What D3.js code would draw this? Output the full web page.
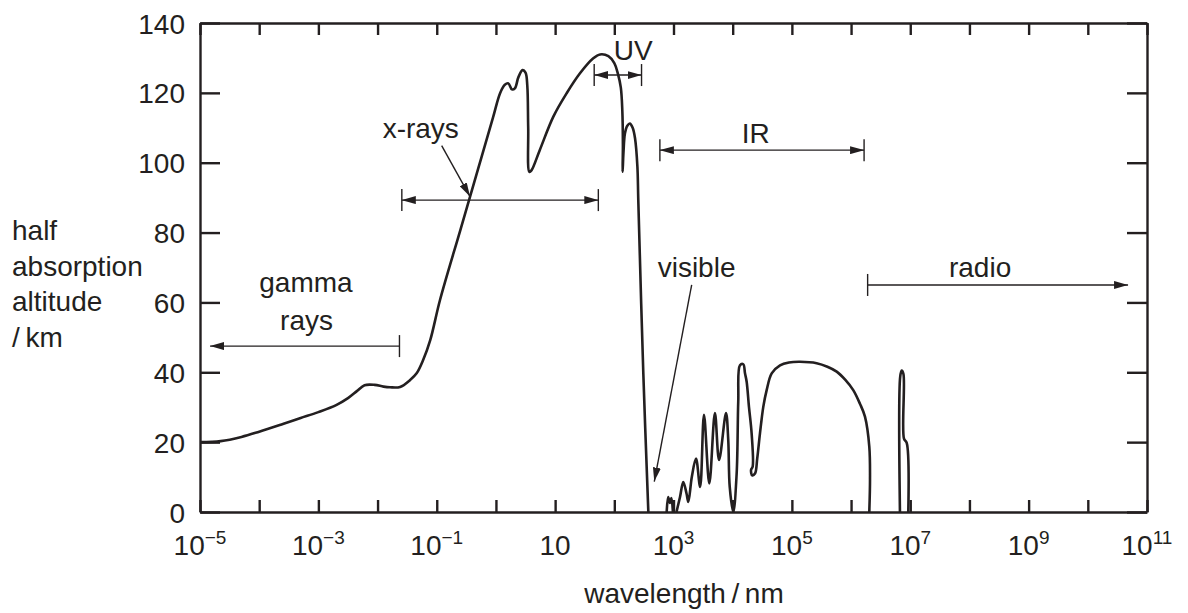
<!DOCTYPE html>
<html>
<head>
<meta charset="utf-8">
<script src="https://cdn.jsdelivr.net/npm/d3@7"></script>
<style>
  body { margin: 0; background: #fff; }
  svg { color: #231f20; }
  text { font-family: "Liberation Sans", Arial, Helvetica, sans-serif; fill: #231f20; }
</style>
</head>
<body>
<svg id="chart" width="1188" height="613"></svg>
<script>
// readings: log10(wavelength / nm) and half absorption altitude / km
const logWavelength = [
  -5.00, -4.65, -4.30, -4.00, -3.60, -3.30, -3.00, -2.70, -2.50, -2.35, -2.22, -2.05, -1.90, -1.79, -1.62, -1.45, -1.34, -1.23, -1.11, -0.945,
  -0.60, -0.30, -0.05,
  0.07, 0.15, 0.21, 0.27, 0.32, 0.38, 0.45, 0.50, 0.53, 0.545, 0.565, 0.60, 0.74, 0.97, 1.195, 1.42, 1.645, 1.76, 1.90, 2.00,
  2.06, 2.11, 2.135, 2.145, 2.14, 2.155, 2.18, 2.22, 2.265, 2.31, 2.35, 2.39, 2.405, 2.49, 2.575,
  2.885, 2.91, 2.94, 2.965, 2.99, 3.05, 3.11, 3.165, 3.22, 3.25, 3.31, 3.38, 3.45, 3.515, 3.605, 3.70, 3.77, 3.887, 3.925, 3.95, 4.01,
  4.067, 4.094, 4.123, 4.179, 4.208, 4.236, 4.275, 4.32, 4.338, 4.31, 4.33, 4.377, 4.415, 4.461, 4.517, 4.574, 4.659, 4.80, 4.95, 5.137,
  5.419, 5.60, 5.757, 5.90, 6.037, 6.15, 6.235, 6.308, 6.32, 6.308,
  6.826, 6.83, 6.855, 6.885, 6.894, 6.94, 6.967
];
const altitude = [
  20.0, 20.3, 21.5, 23.0, 25.2, 26.9, 28.6, 30.6, 32.6, 34.6, 36.3, 36.4, 35.9, 35.7, 35.8, 37.8, 39.7, 43.5, 49.2, 60.7,
  80.8, 98.3, 112.9,
  119.9, 122.3, 122.7, 121.0, 121.3, 124.5, 126.5, 125.8, 122.0, 110.0, 97.4, 97.8, 103.6, 113.2, 119.9, 125.6, 129.9, 131.0, 130.5, 128.5,
  125.5, 121.5, 115.0, 105.0, 97.4, 103.0, 108.4, 110.6, 111.2, 110.0, 107.0, 98.9, 89.3, 39.7, 0,
  0, 4.3, 2.6, 4.0, 0, 0, 4.3, 8.6, 5.3, 2.9, 10.1, 15.3, 7.2, 27.8, 8.2, 28.3, 14.9, 28.3, 20.6, 7.2, 0,
  11.0, 31.6, 42.0, 42.3, 39.7, 37.3, 30.1, 22.5, 13.0, 12.0, 10.5, 11.0, 15.4, 22.5, 30.1, 34.9, 39.7, 42.0, 42.8, 43.0,
  42.6, 41.6, 40.2, 37.9, 34.9, 31.0, 27.3, 18.7, 9.2, 0,
  0, 38.7, 40.5, 39.5, 21.0, 19.8, 0
];

// spectral bands drawn as range arrows (log10 wavelength / nm, altitude / km)
const bandNames = ["gamma rays", "x-rays", "UV", "IR", "radio"];
const bandFrom  = [-4.83, -1.59, 1.66, 2.77, 6.28];
const bandTo    = [-1.63, 1.73, 2.46, 6.22, 10.68];
const bandAlt   = [47.5, 89.3, 125.1, 103.6, 65.0];

const xTickExponents  = [-5, -4, -3, -2, -1, 0, 1, 2, 3, 4, 5, 6, 7, 8, 9, 10, 11];
const xLabelExponents = [-5, -3, -1, 1, 3, 5, 7, 9, 11];
const yTicks = [0, 20, 40, 60, 80, 100, 120, 140];
const yTitle = ["half", "absorption", "altitude", "/\u2009km"];
const xTitle = "wavelength\u2009/\u2009nm";

const INK = "#231f20";
const FS = 28;

const svg = d3.select("#chart");
const mLeft = 200, mRight = 1147, mTop = 23, mBottom = 512;

const x = d3.scaleLog().domain([1e-5, 1e11]).range([mLeft, mRight]);
const y = d3.scaleLinear().domain([0, 140]).range([mBottom, mTop]);
const wl = e => Math.pow(10, e);

const defs = svg.append("defs");
defs.append("marker")
  .attr("id", "arrow")
  .attr("markerUnits", "userSpaceOnUse")
  .attr("viewBox", "0 0 14 8")
  .attr("refX", 14).attr("refY", 4)
  .attr("markerWidth", 14).attr("markerHeight", 8)
  .attr("orient", "auto-start-reverse")
  .append("path")
  .attr("d", "M0,0L14,4L0,8Z")
  .attr("fill", INK);
defs.append("clipPath").attr("id", "plot")
  .append("rect").attr("x", mLeft).attr("y", mTop - 5)
  .attr("width", mRight - mLeft).attr("height", mBottom - mTop + 5);

// frame with inward ticks on all sides
function styleAxis(g) {
  g.selectAll("path, line").attr("stroke", INK).attr("stroke-width", 2.4);
  g.attr("font-family", null).attr("font-size", null);
}
svg.append("g").attr("transform", `translate(0,${mBottom})`)
  .call(d3.axisBottom(x).tickValues(xTickExponents.map(wl)).tickSizeInner(-12).tickSizeOuter(0).tickFormat(""))
  .call(styleAxis);
svg.append("g").attr("transform", `translate(0,${mTop})`)
  .call(d3.axisTop(x).tickValues(xTickExponents.map(wl)).tickSizeInner(-12).tickSizeOuter(0).tickFormat(""))
  .call(styleAxis);
svg.append("g").attr("transform", `translate(${mLeft},0)`)
  .call(d3.axisLeft(y).tickValues(yTicks).tickSizeInner(-20).tickSizeOuter(0).tickPadding(15))
  .call(styleAxis)
  .selectAll("text").attr("font-size", FS).attr("dy", "0.36em");
svg.append("g").attr("transform", `translate(${mRight},0)`)
  .call(d3.axisRight(y).tickValues(yTicks).tickSizeInner(-20).tickSizeOuter(0).tickFormat(""))
  .call(styleAxis);

// x tick labels with superscript exponents
const xl = svg.append("g").selectAll("text")
  .data(xLabelExponents).enter().append("text")
  .attr("x", e => x(wl(e))).attr("y", 555)
  .attr("text-anchor", "middle").attr("font-size", FS);
xl.append("tspan").text("10");
xl.filter(e => e !== 1).append("tspan")
  .attr("dy", -11).attr("font-size", 19)
  .text(e => e < 0 ? "\u2212" + Math.abs(e) : String(e));

// axis titles
svg.append("text").attr("x", 684).attr("y", 603).attr("text-anchor", "middle")
  .attr("font-size", FS).text(xTitle);
svg.append("g").selectAll("text").data(yTitle).enter().append("text")
  .attr("x", 12).attr("y", (d, i) => 240 + i * 35.5)
  .attr("font-size", FS).text(d => d);

// absorption curve, split where it lies flat on the baseline
const segments = [];
let cur = [];
logWavelength.forEach((e, i) => {
  if (i > 0 && altitude[i] === 0 && altitude[i - 1] === 0) {
    segments.push(cur);
    cur = [];
  }
  cur.push([x(wl(e)), y(altitude[i])]);
});
segments.push(cur);

const line = d3.line().curve(d3.curveCatmullRom.alpha(0.5));
svg.append("g").attr("clip-path", "url(#plot)")
  .selectAll("path").data(segments).enter().append("path")
  .attr("d", d => line(d))
  .attr("fill", "none").attr("stroke", INK).attr("stroke-width", 2.6)
  .attr("stroke-linejoin", "round");

// band range arrows
const hasStartArrow = [true, true, true, true, false];
const hasEndArrow   = [false, true, true, true, true];
const hasStartBar   = [false, true, true, true, true];
const hasEndBar     = [true, true, true, true, false];
const ann = svg.append("g").attr("stroke", INK).attr("stroke-width", 1.4);
bandNames.forEach((name, i) => {
  const x0 = x(wl(bandFrom[i])), x1 = x(wl(bandTo[i])), yy = y(bandAlt[i]);
  ann.append("line").attr("x1", x0).attr("x2", x1).attr("y1", yy).attr("y2", yy)
    .attr("marker-start", hasStartArrow[i] ? "url(#arrow)" : null)
    .attr("marker-end", hasEndArrow[i] ? "url(#arrow)" : null);
  if (hasStartBar[i]) ann.append("line").attr("x1", x0).attr("x2", x0).attr("y1", yy - 11).attr("y2", yy + 11);
  if (hasEndBar[i]) ann.append("line").attr("x1", x1).attr("x2", x1).attr("y1", yy - 11).attr("y2", yy + 11);
});

// pointer arrows for x-rays and visible
ann.append("line")
  .attr("x1", x(wl(-0.917))).attr("y1", y(104.9))
  .attr("x2", x(wl(-0.438))).attr("y2", y(90.3))
  .attr("marker-end", "url(#arrow)");
ann.append("line")
  .attr("x1", x(wl(3.307))).attr("y1", y(65.0))
  .attr("x2", x(wl(2.675))).attr("y2", y(8.7))
  .attr("marker-end", "url(#arrow)");

// band labels
const labels = [
  ["gamma", -3.21, 63.0], ["rays", -3.20, 52.1], ["x-rays", -1.27, 107.1],
  ["UV", 2.32, 129.4], ["IR", 4.39, 105.6], ["visible", 3.39, 67.3], ["radio", 8.18, 67.3]
];
svg.append("g").selectAll("text").data(labels).enter().append("text")
  .attr("x", d => x(wl(d[1]))).attr("y", d => y(d[2]))
  .attr("text-anchor", "middle").attr("font-size", FS)
  .text(d => d[0]);
</script>
</body>
</html>
